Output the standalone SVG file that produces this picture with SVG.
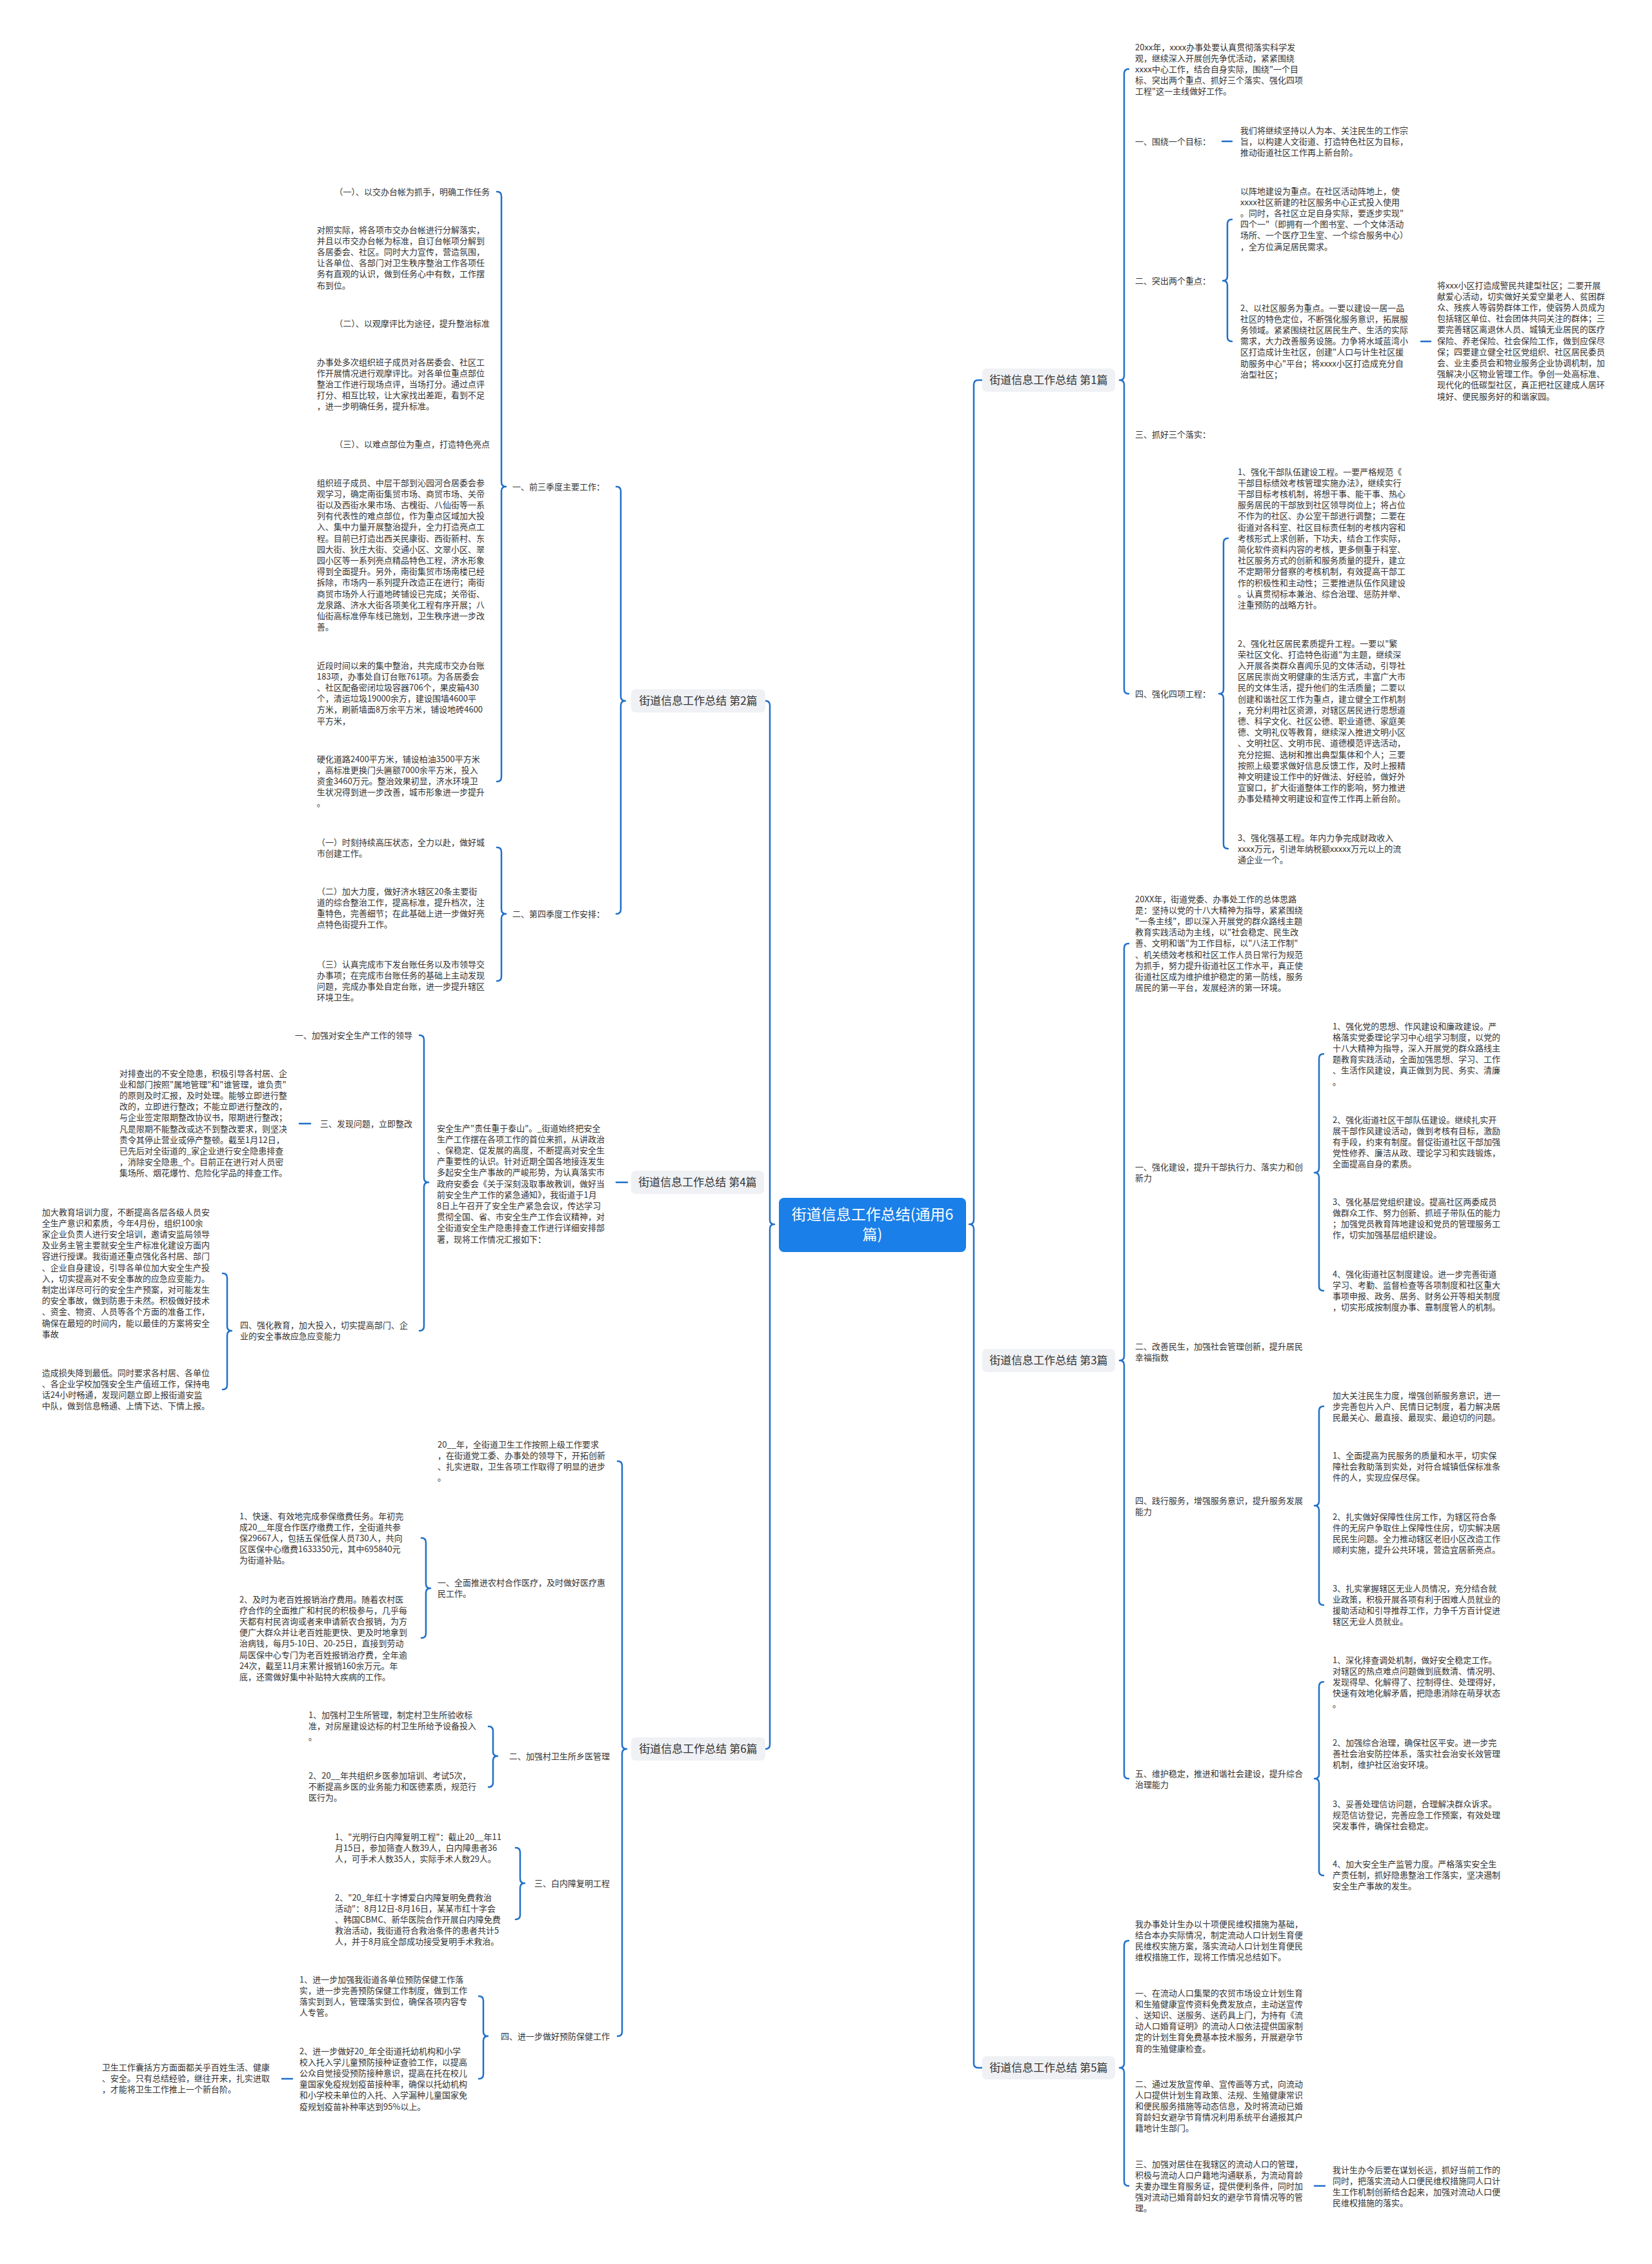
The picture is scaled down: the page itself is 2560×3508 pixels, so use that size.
<svg xmlns="http://www.w3.org/2000/svg" width="2560" height="3508" viewBox="0 0 2560 3508">
<style>
.t{font-family:"Noto Sans CJK SC","Noto Sans",sans-serif;font-size:13px;fill:#333}
.e{text-anchor:end}
.c{fill:none;stroke:#1f6fc8;stroke-width:2.5;stroke-linecap:round;stroke-linejoin:round}
.lb{fill:#eff1f4}
.lt{font-family:"Noto Sans CJK SC","Noto Sans",sans-serif;font-size:17px;fill:#333;text-anchor:middle}
.ct{font-family:"Noto Sans CJK SC","Noto Sans",sans-serif;font-size:23px;fill:#fff;text-anchor:middle}
</style>
<rect width="2560" height="3508" fill="#fff"/>
<g id="connectors">
<path class="c" d="M1186,1086 Q1193,1086 1193,1093 L1193,1890 Q1193,1897 1200,1897 Q1193,1897 1193,1904 L1193,2703 Q1193,2710 1186,2710"/>
<path class="c" d="M1522,589 L1516,589 Q1509,589 1509,596 L1509,1890 Q1509,1897 1502,1897 Q1509,1897 1509,1904 L1509,3197 Q1509,3204 1516,3204 L1522,3204"/>
<path class="c" d="M955,754 Q962,754 962,761 L962,1079 Q962,1086 969,1086 Q962,1086 962,1093 L962,1409 Q962,1416 955,1416"/>
<path class="c" d="M770,297 Q777,297 777,304 L777,747 Q777,754 784,754 Q777,754 777,761 L777,1204 Q777,1211 770,1211"/>
<path class="c" d="M770,1313 Q777,1313 777,1320 L777,1409 Q777,1416 784,1416 Q777,1416 777,1423 L777,1513 Q777,1520 770,1520"/>
<path class="c" d="M955,1832 L972,1832"/>
<path class="c" d="M650,1604 Q657,1604 657,1611 L657,1825 Q657,1832 664,1832 Q657,1832 657,1839 L657,2055 Q657,2062 650,2062"/>
<path class="c" d="M464,1741 L481,1741"/>
<path class="c" d="M345,1973 Q352,1973 352,1980 L352,2055 Q352,2062 359,2062 Q352,2062 352,2069 L352,2146 Q352,2153 345,2153"/>
<path class="c" d="M957,2264 Q964,2264 964,2271 L964,2703 Q964,2710 971,2710 Q964,2710 964,2717 L964,3148 Q964,3155 957,3155"/>
<path class="c" d="M653,2383 Q660,2383 660,2390 L660,2454 Q660,2461 667,2461 Q660,2461 660,2468 L660,2531 Q660,2538 653,2538"/>
<path class="c" d="M757,2675 Q764,2675 764,2682 L764,2714 Q764,2721 771,2721 Q764,2721 764,2728 L764,2762 Q764,2769 757,2769"/>
<path class="c" d="M799,2863 Q806,2863 806,2870 L806,2911 Q806,2918 813,2918 Q806,2918 806,2925 L806,2967 Q806,2974 799,2974"/>
<path class="c" d="M742,3093 Q749,3093 749,3100 L749,3148 Q749,3155 756,3155 Q749,3155 749,3162 L749,3214 Q749,3221 742,3221"/>
<path class="c" d="M437,3221 L453,3221"/>
<path class="c" d="M1749,107 Q1742,107 1742,114 L1742,582 Q1742,589 1735,589 Q1742,589 1742,596 L1742,1068 Q1742,1075 1749,1075"/>
<path class="c" d="M1894,219 L1909,219"/>
<path class="c" d="M1909,340 Q1902,340 1902,347 L1902,428 Q1902,435 1895,435 Q1902,435 1902,442 L1902,522 Q1902,529 1909,529"/>
<path class="c" d="M2202,529 L2217,529"/>
<path class="c" d="M1903,834 Q1896,834 1896,841 L1896,1068 Q1896,1075 1889,1075 Q1896,1075 1896,1082 L1896,1308 Q1896,1315 1903,1315"/>
<path class="c" d="M1749,1462 Q1742,1462 1742,1469 L1742,2101 Q1742,2108 1735,2108 Q1742,2108 1742,2115 L1742,2749 Q1742,2756 1749,2756"/>
<path class="c" d="M2051,1633 Q2044,1633 2044,1640 L2044,1810 Q2044,1817 2037,1817 Q2044,1817 2044,1824 L2044,1993 Q2044,2000 2051,2000"/>
<path class="c" d="M2051,2179 Q2044,2179 2044,2186 L2044,2326 Q2044,2333 2037,2333 Q2044,2333 2044,2340 L2044,2480 Q2044,2487 2051,2487"/>
<path class="c" d="M2051,2606 Q2044,2606 2044,2613 L2044,2749 Q2044,2756 2037,2756 Q2044,2756 2044,2763 L2044,2899 Q2044,2906 2051,2906"/>
<path class="c" d="M1749,3007 Q1742,3007 1742,3014 L1742,3197 Q1742,3204 1735,3204 Q1742,3204 1742,3211 L1742,3380 Q1742,3387 1749,3387"/>
<path class="c" d="M2037,3387 L2053,3387"/>
</g>
<g id="center">
<rect x="1207" y="1856" width="290" height="84" rx="8" fill="#1a7fe8"/>
<text class="ct"><tspan x="1352" y="1890">街道信息工作总结(通用6</tspan><tspan x="1352" y="1921">篇)</tspan></text>
</g>
<g id="b2">
<rect class="lb" x="978" y="1068" width="208" height="36" rx="7"/>
<text class="lt" x="1082" y="1092">街道信息工作总结 第2篇</text>
</g>
<g id="b4">
<rect class="lb" x="978" y="1814" width="206" height="36" rx="7"/>
<text class="lt" x="1081" y="1838">街道信息工作总结 第4篇</text>
</g>
<g id="b6">
<rect class="lb" x="978" y="2692" width="208" height="36" rx="7"/>
<text class="lt" x="1082" y="2716">街道信息工作总结 第6篇</text>
</g>
<g id="b1">
<rect class="lb" x="1522" y="571" width="206" height="36" rx="7"/>
<text class="lt" x="1625" y="595">街道信息工作总结 第1篇</text>
</g>
<g id="b3">
<rect class="lb" x="1522" y="2090" width="206" height="36" rx="7"/>
<text class="lt" x="1625" y="2114">街道信息工作总结 第3篇</text>
</g>
<g id="b5">
<rect class="lb" x="1522" y="3186" width="206" height="36" rx="7"/>
<text class="lt" x="1625" y="3210">街道信息工作总结 第5篇</text>
</g>

<g id="n2a"><text class="t e" x="937" y="758.5">一、前三季度主要工作：</text></g>
<g id="n2a1"><text class="t e" x="759" y="301.5">（一）、以交办台帐为抓手，明确工作任务</text></g>
<g id="n2a2"><text class="t"><tspan x="491" y="360.5">对照实际，将各项市交办台帐进行分解落实，</tspan><tspan x="491" dy="17.2">并且以市交办台帐为标准，自订台帐项分解到</tspan><tspan x="491" dy="17.2">各居委会、社区。同时大力宣传，营造氛围，</tspan><tspan x="491" dy="17.2">让各单位、各部门对卫生秩序整治工作各项任</tspan><tspan x="491" dy="17.2">务有直观的认识，做到任务心中有数，工作摆</tspan><tspan x="491" dy="17.2">布到位。</tspan></text></g>
<g id="n2a3"><text class="t e" x="759" y="505.5">（二）、以观摩评比为途径，提升整治标准</text></g>
<g id="n2a4"><text class="t"><tspan x="491" y="565.5">办事处多次组织班子成员对各居委会、社区工</tspan><tspan x="491" dy="17.2">作开展情况进行观摩评比。对各单位重点部位</tspan><tspan x="491" dy="17.2">整治工作进行现场点评，当场打分。通过点评</tspan><tspan x="491" dy="17.2">打分、相互比较，让大家找出差距，看到不足</tspan><tspan x="491" dy="17.2">，进一步明确任务，提升标准。</tspan></text></g>
<g id="n2a5"><text class="t e" x="759" y="692.5">（三）、以难点部位为重点，打造特色亮点</text></g>
<g id="n2a6"><text class="t"><tspan x="491" y="752.5">组织班子成员、中层干部到沁园河合居委会参</tspan><tspan x="491" dy="17.2">观学习，确定南街集贸市场、商贸市场、关帝</tspan><tspan x="491" dy="17.2">街以及西街水果市场、古槐街、八仙街等一系</tspan><tspan x="491" dy="17.2">列有代表性的难点部位，作为重点区域加大投</tspan><tspan x="491" dy="17.2">入、集中力量开展整治提升，全力打造亮点工</tspan><tspan x="491" dy="17.2">程。目前已打造出西关民康街、西街新村、东</tspan><tspan x="491" dy="17.2">园大街、狄庄大街、交通小区、文翠小区、翠</tspan><tspan x="491" dy="17.2">园小区等一系列亮点精品特色工程，济水形象</tspan><tspan x="491" dy="17.2">得到全面提升。另外，南街集贸市场南楼已经</tspan><tspan x="491" dy="17.2">拆除，市场内一系列提升改造正在进行；南街</tspan><tspan x="491" dy="17.2">商贸市场外人行道地砖铺设已完成；关帝街、</tspan><tspan x="491" dy="17.2">龙泉路、济水大街各项美化工程有序开展；八</tspan><tspan x="491" dy="17.2">仙街高标准停车线已施划，卫生秩序进一步改</tspan><tspan x="491" dy="17.2">善。</tspan></text></g>
<g id="n2a7"><text class="t"><tspan x="491" y="1035.5">近段时间以来的集中整治，共完成市交办台账</tspan><tspan x="491" dy="17.2">183项，办事处自订台账761项。为各居委会</tspan><tspan x="491" dy="17.2">、社区配备密闭垃圾容器706个，果皮箱430</tspan><tspan x="491" dy="17.2">个，清运垃圾19000余方，建设围墙4600平</tspan><tspan x="491" dy="17.2">方米，刷新墙面8万余平方米，铺设地砖4600</tspan><tspan x="491" dy="17.2">平方米，</tspan></text></g>
<g id="n2a8"><text class="t"><tspan x="491" y="1180.5">硬化道路2400平方米，铺设柏油3500平方米</tspan><tspan x="491" dy="17.2">，高标准更换门头匾额7000余平方米，投入</tspan><tspan x="491" dy="17.2">资金3460万元。整治效果初显，济水环境卫</tspan><tspan x="491" dy="17.2">生状况得到进一步改善，城市形象进一步提升</tspan><tspan x="491" dy="17.2">。</tspan></text></g>
<g id="n2b"><text class="t e" x="937" y="1420.5">二、第四季度工作安排：</text></g>
<g id="n2b1"><text class="t"><tspan x="491" y="1309.5">（一）时刻持续高压状态，全力以赴，做好城</tspan><tspan x="491" dy="17.2">市创建工作。</tspan></text></g>
<g id="n2b2"><text class="t"><tspan x="491" y="1385.5">（二）加大力度，做好济水辖区20条主要街</tspan><tspan x="491" dy="17.2">道的综合整治工作，提高标准，提升档次，注</tspan><tspan x="491" dy="17.2">重特色，完善细节；在此基础上进一步做好亮</tspan><tspan x="491" dy="17.2">点特色街提升工作。</tspan></text></g>
<g id="n2b3"><text class="t"><tspan x="491" y="1498.5">（三）认真完成市下发台账任务以及市领导交</tspan><tspan x="491" dy="17.2">办事项；在完成市台账任务的基础上主动发现</tspan><tspan x="491" dy="17.2">问题，完成办事处自定台账，进一步提升辖区</tspan><tspan x="491" dy="17.2">环境卫生。</tspan></text></g>

<g id="n4p"><text class="t"><tspan x="677" y="1752.5">安全生产"责任重于泰山"。_街道始终把安全</tspan><tspan x="677" dy="17.2">生产工作摆在各项工作的首位来抓，从讲政治</tspan><tspan x="677" dy="17.2">、保稳定、促发展的高度，不断提高对安全生</tspan><tspan x="677" dy="17.2">产重要性的认识。针对近期全国各地接连发生</tspan><tspan x="677" dy="17.2">多起安全生产事故的严峻形势，为认真落实市</tspan><tspan x="677" dy="17.2">政府安委会《关于深刻汲取事故教训，做好当</tspan><tspan x="677" dy="17.2">前安全生产工作的紧急通知》，我街道于1月</tspan><tspan x="677" dy="17.2">8日上午召开了安全生产紧急会议，传达学习</tspan><tspan x="677" dy="17.2">贯彻全国、省、市安全生产工作会议精神，对</tspan><tspan x="677" dy="17.2">全街道安全生产隐患排查工作进行详细安排部</tspan><tspan x="677" dy="17.2">署，现将工作情况汇报如下：</tspan></text></g>
<g id="n4a"><text class="t e" x="639" y="1608.5">一、加强对安全生产工作的领导</text></g>
<g id="n4b"><text class="t e" x="639" y="1745.5">三、发现问题，立即整改</text></g>
<g id="n4b1"><text class="t"><tspan x="185" y="1667.5">对排查出的不安全隐患，积极引导各村居、企</tspan><tspan x="185" dy="17.2">业和部门按照"属地管理"和"谁管理，谁负责"</tspan><tspan x="185" dy="17.2">的原则及时汇报，及时处理。能够立即进行整</tspan><tspan x="185" dy="17.2">改的，立即进行整改；不能立即进行整改的，</tspan><tspan x="185" dy="17.2">与企业签定限期整改协议书，限期进行整改；</tspan><tspan x="185" dy="17.2">凡是限期不能整改或达不到整改要求，则坚决</tspan><tspan x="185" dy="17.2">责令其停止营业或停产整顿。截至1月12日，</tspan><tspan x="185" dy="17.2">已先后对全街道的_家企业进行安全隐患排查</tspan><tspan x="185" dy="17.2">，消除安全隐患_个。目前正在进行对人员密</tspan><tspan x="185" dy="17.2">集场所、烟花爆竹、危险化学品的排查工作。</tspan></text></g>
<g id="n4c"><text class="t"><tspan x="372" y="2057.5">四、强化教育，加大投入，切实提高部门、企</tspan><tspan x="372" dy="17.2">业的安全事故应急应变能力</tspan></text></g>
<g id="n4c1"><text class="t"><tspan x="65" y="1882.5">加大教育培训力度，不断提高各层各级人员安</tspan><tspan x="65" dy="17.2">全生产意识和素质，今年4月份，组织100余</tspan><tspan x="65" dy="17.2">家企业负责人进行安全培训，邀请安监局领导</tspan><tspan x="65" dy="17.2">及业务主管主要就安全生产标准化建设方面内</tspan><tspan x="65" dy="17.2">容进行授课。我街道还重点强化各村居、部门</tspan><tspan x="65" dy="17.2">、企业自身建设，引导各单位加大安全生产投</tspan><tspan x="65" dy="17.2">入，切实提高对不安全事故的应急应变能力。</tspan><tspan x="65" dy="17.2">制定出详尽可行的安全生产预案，对可能发生</tspan><tspan x="65" dy="17.2">的安全事故，做到防患于未然。积极做好技术</tspan><tspan x="65" dy="17.2">、资金、物资、人员等各个方面的准备工作，</tspan><tspan x="65" dy="17.2">确保在最短的时间内，能以最佳的方案将安全</tspan><tspan x="65" dy="17.2">事故</tspan></text></g>
<g id="n4c2"><text class="t"><tspan x="65" y="2131.5">造成损失降到最低。同时要求各村居、各单位</tspan><tspan x="65" dy="17.2">、各企业学校加强安全生产值班工作，保持电</tspan><tspan x="65" dy="17.2">话24小时畅通，发现问题立即上报街道安监</tspan><tspan x="65" dy="17.2">中队，做到信息畅通、上情下达、下情上报。</tspan></text></g>

<g id="n6a"><text class="t"><tspan x="678" y="2242.5">20__年，全街道卫生工作按照上级工作要求</tspan><tspan x="678" dy="17.2">，在街道党工委、办事处的领导下，开拓创新</tspan><tspan x="678" dy="17.2">、扎实进取，卫生各项工作取得了明显的进步</tspan><tspan x="678" dy="17.2">。</tspan></text></g>
<g id="n6b"><text class="t"><tspan x="678" y="2456.5">一、全面推进农村合作医疗，及时做好医疗惠</tspan><tspan x="678" dy="17.2">民工作。</tspan></text></g>
<g id="n6b1"><text class="t"><tspan x="371" y="2353.5">1、快速、有效地完成参保缴费任务。年初完</tspan><tspan x="371" dy="17.2">成20__年度合作医疗缴费工作，全街道共参</tspan><tspan x="371" dy="17.2">保29667人，包括五保低保人员730人，共向</tspan><tspan x="371" dy="17.2">区医保中心缴费1633350元，其中695840元</tspan><tspan x="371" dy="17.2">为街道补贴。</tspan></text></g>
<g id="n6b2"><text class="t"><tspan x="371" y="2482.5">2、及时为老百姓报销治疗费用。随着农村医</tspan><tspan x="371" dy="17.2">疗合作的全面推广和村民的积极参与，几乎每</tspan><tspan x="371" dy="17.2">天都有村民咨询或者来申请新农合报销，为方</tspan><tspan x="371" dy="17.2">便广大群众并让老百姓能更快、更及时地拿到</tspan><tspan x="371" dy="17.2">治病钱，每月5-10日、20-25日，直接到劳动</tspan><tspan x="371" dy="17.2">局医保中心专门为老百姓报销治疗费，全年逾</tspan><tspan x="371" dy="17.2">24次，截至11月末累计报销160余万元。年</tspan><tspan x="371" dy="17.2">底，还需做好集中补贴特大疾病的工作。</tspan></text></g>
<g id="n6c"><text class="t e" x="945" y="2725.5">二、加强村卫生所乡医管理</text></g>
<g id="n6c1"><text class="t"><tspan x="478" y="2661.5">1、加强村卫生所管理，制定村卫生所验收标</tspan><tspan x="478" dy="17.2">准，对房屋建设达标的村卫生所给予设备投入</tspan><tspan x="478" dy="17.2">。</tspan></text></g>
<g id="n6c2"><text class="t"><tspan x="478" y="2755.5">2、20__年共组织乡医参加培训、考试5次，</tspan><tspan x="478" dy="17.2">不断提高乡医的业务能力和医德素质，规范行</tspan><tspan x="478" dy="17.2">医行为。</tspan></text></g>
<g id="n6d"><text class="t e" x="945" y="2922.5">三、白内障复明工程</text></g>
<g id="n6d1"><text class="t"><tspan x="519" y="2850.5">1、"光明行白内障复明工程"：截止20__年11</tspan><tspan x="519" dy="17.2">月15日，参加筛查人数39人，白内障患者36</tspan><tspan x="519" dy="17.2">人，可手术人数35人，实际手术人数29人。</tspan></text></g>
<g id="n6d2"><text class="t"><tspan x="519" y="2944.5">2、"20_年红十字博爱白内障复明免费救治</tspan><tspan x="519" dy="17.2">活动"：8月12日-8月16日，某某市红十字会</tspan><tspan x="519" dy="17.2">、韩国CBMC、新华医院合作开展白内障免费</tspan><tspan x="519" dy="17.2">救治活动，我街道符合救治条件的患者共计5</tspan><tspan x="519" dy="17.2">人，并于8月底全部成功接受复明手术救治。</tspan></text></g>
<g id="n6e"><text class="t e" x="945" y="3159.5">四、进一步做好预防保健工作</text></g>
<g id="n6e1"><text class="t"><tspan x="464" y="3071.5">1、进一步加强我街道各单位预防保健工作落</tspan><tspan x="464" dy="17.2">实，进一步完善预防保健工作制度，做到工作</tspan><tspan x="464" dy="17.2">落实到到人，管理落实到位，确保各项内容专</tspan><tspan x="464" dy="17.2">人专管。</tspan></text></g>
<g id="n6e2"><text class="t"><tspan x="464" y="3182.5">2、进一步做好20_年全街道托幼机构和小学</tspan><tspan x="464" dy="17.2">校入托入学儿童预防接种证查验工作，以提高</tspan><tspan x="464" dy="17.2">公众自觉接受预防接种意识，提高在托在校儿</tspan><tspan x="464" dy="17.2">童国家免疫规划疫苗接种率，确保以托幼机构</tspan><tspan x="464" dy="17.2">和小学校未单位的入托、入学漏种儿童国家免</tspan><tspan x="464" dy="17.2">疫规划疫苗补种率达到95%以上。</tspan></text></g>
<g id="n6e2a"><text class="t"><tspan x="158" y="3207.5">卫生工作囊括方方面面都关乎百姓生活、健康</tspan><tspan x="158" dy="17.2">、安全。只有总结经验，继往开来，扎实进取</tspan><tspan x="158" dy="17.2">，才能将卫生工作推上一个新台阶。</tspan></text></g>

<g id="n1i"><text class="t"><tspan x="1759" y="77.5">20xx年，xxxx办事处要认真贯彻落实科学发</tspan><tspan x="1759" dy="17.2">观，继续深入开展创先争优活动，紧紧围绕</tspan><tspan x="1759" dy="17.2">xxxx中心工作，结合自身实际，围绕"一个目</tspan><tspan x="1759" dy="17.2">标、突出两个重点、抓好三个落实、强化四项</tspan><tspan x="1759" dy="17.2">工程"这一主线做好工作。</tspan></text></g>
<g id="n1a"><text class="t" x="1759" y="223.5">一、围绕一个目标：</text></g>
<g id="n1a1"><text class="t"><tspan x="1922" y="206.5">我们将继续坚持以人为本、关注民生的工作宗</tspan><tspan x="1922" dy="17.2">旨，以构建人文街道、打造特色社区为目标，</tspan><tspan x="1922" dy="17.2">推动街道社区工作再上新台阶。</tspan></text></g>
<g id="n1b"><text class="t" x="1759" y="439.5">二、突出两个重点：</text></g>
<g id="n1b1"><text class="t"><tspan x="1922" y="300.5">以阵地建设为重点。在社区活动阵地上，使</tspan><tspan x="1922" dy="17.2">xxxx社区新建的社区服务中心正式投入使用</tspan><tspan x="1922" dy="17.2">。同时，各社区立足自身实际，要逐步实现"</tspan><tspan x="1922" dy="17.2">四个一"（即拥有一个图书室、一个文体活动</tspan><tspan x="1922" dy="17.2">场所、一个医疗卫生室、一个综合服务中心）</tspan><tspan x="1922" dy="17.2">，全方位满足居民需求。</tspan></text></g>
<g id="n1b2"><text class="t"><tspan x="1922" y="481.5">2、以社区服务为重点。一要以建设一居一品</tspan><tspan x="1922" dy="17.2">社区的特色定位，不断强化服务意识，拓展服</tspan><tspan x="1922" dy="17.2">务领域。紧紧围绕社区居民生产、生活的实际</tspan><tspan x="1922" dy="17.2">需求，大力改善服务设施。力争将水域蓝湾小</tspan><tspan x="1922" dy="17.2">区打造成计生社区，创建"人口与计生社区援</tspan><tspan x="1922" dy="17.2">助服务中心"平台；将xxxx小区打造成充分自</tspan><tspan x="1922" dy="17.2">治型社区；</tspan></text></g>
<g id="n1b2a"><text class="t"><tspan x="2227" y="446.5">将xxx小区打造成警民共建型社区；二要开展</tspan><tspan x="2227" dy="17.2">献爱心活动，切实做好关爱空巢老人、贫困群</tspan><tspan x="2227" dy="17.2">众、残疾人等弱势群体工作，使弱势人员成为</tspan><tspan x="2227" dy="17.2">包括辖区单位、社会团体共同关注的群体；三</tspan><tspan x="2227" dy="17.2">要完善辖区离退休人员、城镇无业居民的医疗</tspan><tspan x="2227" dy="17.2">保险、养老保险、社会保险工作，做到应保尽</tspan><tspan x="2227" dy="17.2">保；四要建立健全社区党组织、社区居民委员</tspan><tspan x="2227" dy="17.2">会、业主委员会和物业服务企业协调机制，加</tspan><tspan x="2227" dy="17.2">强解决小区物业管理工作。争创一处高标准、</tspan><tspan x="2227" dy="17.2">现代化的低碳型社区，真正把社区建成人居环</tspan><tspan x="2227" dy="17.2">境好、便民服务好的和谐家园。</tspan></text></g>
<g id="n1c"><text class="t" x="1759" y="677.5">三、抓好三个落实：</text></g>
<g id="n1d"><text class="t" x="1759" y="1079.5">四、强化四项工程：</text></g>
<g id="n1d1"><text class="t"><tspan x="1918" y="735.5">1、强化干部队伍建设工程。一要严格规范《</tspan><tspan x="1918" dy="17.2">干部目标绩效考核管理实施办法》，继续实行</tspan><tspan x="1918" dy="17.2">干部目标考核机制，将想干事、能干事、热心</tspan><tspan x="1918" dy="17.2">服务居民的干部放到社区领导岗位上；将占位</tspan><tspan x="1918" dy="17.2">不作为的社区、办公室干部进行调整；二要在</tspan><tspan x="1918" dy="17.2">街道对各科室、社区目标责任制的考核内容和</tspan><tspan x="1918" dy="17.2">考核形式上求创新，下功夫，结合工作实际，</tspan><tspan x="1918" dy="17.2">简化软件资料内容的考核，更多侧重于科室、</tspan><tspan x="1918" dy="17.2">社区服务方式的创新和服务质量的提升，建立</tspan><tspan x="1918" dy="17.2">不定期带分督察的考核机制，有效提高干部工</tspan><tspan x="1918" dy="17.2">作的积极性和主动性；三要推进队伍作风建设</tspan><tspan x="1918" dy="17.2">。认真贯彻标本兼治、综合治理、惩防并举、</tspan><tspan x="1918" dy="17.2">注重预防的战略方针。</tspan></text></g>
<g id="n1d2"><text class="t"><tspan x="1918" y="1001.5">2、强化社区居民素质提升工程。一要以"繁</tspan><tspan x="1918" dy="17.2">荣社区文化、打造特色街道"为主题，继续深</tspan><tspan x="1918" dy="17.2">入开展各类群众喜闻乐见的文体活动，引导社</tspan><tspan x="1918" dy="17.2">区居民崇尚文明健康的生活方式，丰富广大市</tspan><tspan x="1918" dy="17.2">民的文体生活，提升他们的生活质量；二要以</tspan><tspan x="1918" dy="17.2">创建和谐社区工作为重点，建立健全工作机制</tspan><tspan x="1918" dy="17.2">，充分利用社区资源，对辖区居民进行思想道</tspan><tspan x="1918" dy="17.2">德、科学文化、社区公德、职业道德、家庭美</tspan><tspan x="1918" dy="17.2">德、文明礼仪等教育，继续深入推进文明小区</tspan><tspan x="1918" dy="17.2">、文明社区、文明市民、道德模范评选活动，</tspan><tspan x="1918" dy="17.2">充分挖掘、选树和推出典型集体和个人；三要</tspan><tspan x="1918" dy="17.2">按照上级要求做好信息反馈工作，及时上报精</tspan><tspan x="1918" dy="17.2">神文明建设工作中的好做法、好经验，做好外</tspan><tspan x="1918" dy="17.2">宣窗口，扩大街道整体工作的影响，努力推进</tspan><tspan x="1918" dy="17.2">办事处精神文明建设和宣传工作再上新台阶。</tspan></text></g>
<g id="n1d3"><text class="t"><tspan x="1918" y="1302.5">3、强化强基工程。年内力争完成财政收入</tspan><tspan x="1918" dy="17.2">xxxx万元，引进年纳税额xxxxx万元以上的流</tspan><tspan x="1918" dy="17.2">通企业一个。</tspan></text></g>

<g id="n3i"><text class="t"><tspan x="1759" y="1397.5">20XX年，街道党委、办事处工作的总体思路</tspan><tspan x="1759" dy="17.2">是：坚持以党的十八大精神为指导，紧紧围绕</tspan><tspan x="1759" dy="17.2">"一条主线"，即以深入开展党的群众路线主题</tspan><tspan x="1759" dy="17.2">教育实践活动为主线，以"社会稳定、民生改</tspan><tspan x="1759" dy="17.2">善、文明和谐"为工作目标，以"八法工作制"</tspan><tspan x="1759" dy="17.2">、机关绩效考核和社区工作人员日常行为规范</tspan><tspan x="1759" dy="17.2">为抓手，努力提升街道社区工作水平，真正使</tspan><tspan x="1759" dy="17.2">街道社区成为维护维护稳定的第一防线，服务</tspan><tspan x="1759" dy="17.2">居民的第一平台，发展经济的第一环境。</tspan></text></g>
<g id="n3a"><text class="t"><tspan x="1759" y="1812.5">一、强化建设，提升干部执行力、落实力和创</tspan><tspan x="1759" dy="17.2">新力</tspan></text></g>
<g id="n3a1"><text class="t"><tspan x="2065" y="1594.5">1、强化党的思想、作风建设和廉政建设。严</tspan><tspan x="2065" dy="17.2">格落实党委理论学习中心组学习制度，以党的</tspan><tspan x="2065" dy="17.2">十八大精神为指导，深入开展党的群众路线主</tspan><tspan x="2065" dy="17.2">题教育实践活动，全面加强思想、学习、工作</tspan><tspan x="2065" dy="17.2">、生活作风建设，真正做到为民、务实、清廉</tspan><tspan x="2065" dy="17.2">。</tspan></text></g>
<g id="n3a2"><text class="t"><tspan x="2065" y="1739.5">2、强化街道社区干部队伍建设。继续扎实开</tspan><tspan x="2065" dy="17.2">展干部作风建设活动，做到考核有目标，激励</tspan><tspan x="2065" dy="17.2">有手段，约束有制度。督促街道社区干部加强</tspan><tspan x="2065" dy="17.2">党性修养、廉洁从政、理论学习和实践锻炼，</tspan><tspan x="2065" dy="17.2">全面提高自身的素质。</tspan></text></g>
<g id="n3a3"><text class="t"><tspan x="2065" y="1866.5">3、强化基层党组织建设。提高社区两委成员</tspan><tspan x="2065" dy="17.2">做群众工作、努力创新、抓班子带队伍的能力</tspan><tspan x="2065" dy="17.2">；加强党员教育阵地建设和党员的管理服务工</tspan><tspan x="2065" dy="17.2">作，切实加强基层组织建设。</tspan></text></g>
<g id="n3a4"><text class="t"><tspan x="2065" y="1978.5">4、强化街道社区制度建设。进一步完善街道</tspan><tspan x="2065" dy="17.2">学习、考勤、监督检查等各项制度和社区重大</tspan><tspan x="2065" dy="17.2">事项申报、政务、居务、财务公开等相关制度</tspan><tspan x="2065" dy="17.2">，切实形成按制度办事、靠制度管人的机制。</tspan></text></g>
<g id="n3b"><text class="t"><tspan x="1759" y="2090.5">二、改善民生，加强社会管理创新，提升居民</tspan><tspan x="1759" dy="17.2">幸福指数</tspan></text></g>
<g id="n3c"><text class="t"><tspan x="1759" y="2329.5">四、践行服务，增强服务意识，提升服务发展</tspan><tspan x="1759" dy="17.2">能力</tspan></text></g>
<g id="n3c1"><text class="t"><tspan x="2065" y="2166.5">加大关注民生力度，增强创新服务意识，进一</tspan><tspan x="2065" dy="17.2">步完善包片入户、民情日记制度，着力解决居</tspan><tspan x="2065" dy="17.2">民最关心、最直接、最现实、最迫切的问题。</tspan></text></g>
<g id="n3c2"><text class="t"><tspan x="2065" y="2259.5">1、全面提高为民服务的质量和水平，切实保</tspan><tspan x="2065" dy="17.2">障社会救助落到实处，对符合城镇低保标准条</tspan><tspan x="2065" dy="17.2">件的人，实现应保尽保。</tspan></text></g>
<g id="n3c3"><text class="t"><tspan x="2065" y="2354.5">2、扎实做好保障性住房工作，为辖区符合条</tspan><tspan x="2065" dy="17.2">件的无房户争取住上保障性住房，切实解决居</tspan><tspan x="2065" dy="17.2">民民生问题。全力推动辖区老旧小区改造工作</tspan><tspan x="2065" dy="17.2">顺利实施，提升公共环境，营造宜居新亮点。</tspan></text></g>
<g id="n3c4"><text class="t"><tspan x="2065" y="2465.5">3、扎实掌握辖区无业人员情况，充分结合就</tspan><tspan x="2065" dy="17.2">业政策，积极开展各项有利于困难人员就业的</tspan><tspan x="2065" dy="17.2">援助活动和引导推荐工作，力争千方百计促进</tspan><tspan x="2065" dy="17.2">辖区无业人员就业。</tspan></text></g>
<g id="n3d"><text class="t"><tspan x="1759" y="2752.5">五、维护稳定，推进和谐社会建设，提升综合</tspan><tspan x="1759" dy="17.2">治理能力</tspan></text></g>
<g id="n3d1"><text class="t"><tspan x="2065" y="2576.5">1、深化排查调处机制，做好安全稳定工作。</tspan><tspan x="2065" dy="17.2">对辖区的热点难点问题做到底数清、情况明、</tspan><tspan x="2065" dy="17.2">发现得早、化解得了、控制得住、处理得好，</tspan><tspan x="2065" dy="17.2">快速有效地化解矛盾，把隐患消除在萌芽状态</tspan><tspan x="2065" dy="17.2">。</tspan></text></g>
<g id="n3d2"><text class="t"><tspan x="2065" y="2704.5">2、加强综合治理，确保社区平安。进一步完</tspan><tspan x="2065" dy="17.2">善社会治安防控体系，落实社会治安长效管理</tspan><tspan x="2065" dy="17.2">机制，维护社区治安环境。</tspan></text></g>
<g id="n3d3"><text class="t"><tspan x="2065" y="2799.5">3、妥善处理信访问题，合理解决群众诉求。</tspan><tspan x="2065" dy="17.2">规范信访登记，完善应急工作预案，有效处理</tspan><tspan x="2065" dy="17.2">突发事件，确保社会稳定。</tspan></text></g>
<g id="n3d4"><text class="t"><tspan x="2065" y="2892.5">4、加大安全生产监管力度。严格落实安全生</tspan><tspan x="2065" dy="17.2">产责任制，抓好隐患整治工作落实，坚决遏制</tspan><tspan x="2065" dy="17.2">安全生产事故的发生。</tspan></text></g>

<g id="n5a"><text class="t"><tspan x="1759" y="2985.5">我办事处计生办以十项便民维权措施为基础，</tspan><tspan x="1759" dy="17.2">结合本办实际情况，制定流动人口计划生育便</tspan><tspan x="1759" dy="17.2">民维权实施方案，落实流动人口计划生育便民</tspan><tspan x="1759" dy="17.2">维权措施工作，现将工作情况总结如下。</tspan></text></g>
<g id="n5b"><text class="t"><tspan x="1759" y="3092.5">一、在流动人口集聚的农贸市场设立计划生育</tspan><tspan x="1759" dy="17.2">和生殖健康宣传资料免费发放点，主动送宣传</tspan><tspan x="1759" dy="17.2">、送知识、送服务、送药具上门，为持有《流</tspan><tspan x="1759" dy="17.2">动人口婚育证明》的流动人口依法提供国家制</tspan><tspan x="1759" dy="17.2">定的计划生育免费基本技术服务，开展避孕节</tspan><tspan x="1759" dy="17.2">育的生殖健康检查。</tspan></text></g>
<g id="n5c"><text class="t"><tspan x="1759" y="3233.5">二、通过发放宣传单、宣传画等方式，向流动</tspan><tspan x="1759" dy="17.2">人口提供计划生育政策、法规、生殖健康常识</tspan><tspan x="1759" dy="17.2">和便民服务措施等动态信息，及时将流动已婚</tspan><tspan x="1759" dy="17.2">育龄妇女避孕节育情况利用系统平台通报其户</tspan><tspan x="1759" dy="17.2">籍地计生部门。</tspan></text></g>
<g id="n5d"><text class="t"><tspan x="1759" y="3357.5">三、加强对居住在我辖区的流动人口的管理，</tspan><tspan x="1759" dy="17.2">积极与流动人口户籍地沟通联系，为流动育龄</tspan><tspan x="1759" dy="17.2">夫妻办理生育服务证，提供便利条件，同时加</tspan><tspan x="1759" dy="17.2">强对流动已婚育龄妇女的避孕节育情况等的管</tspan><tspan x="1759" dy="17.2">理。</tspan></text></g>
<g id="n5d1"><text class="t"><tspan x="2065" y="3366.5">我计生办今后要在谋划长远，抓好当前工作的</tspan><tspan x="2065" dy="17.2">同时，把落实流动人口便民维权措施同人口计</tspan><tspan x="2065" dy="17.2">生工作机制创新结合起来，加强对流动人口便</tspan><tspan x="2065" dy="17.2">民维权措施的落实。</tspan></text></g>
</svg>
